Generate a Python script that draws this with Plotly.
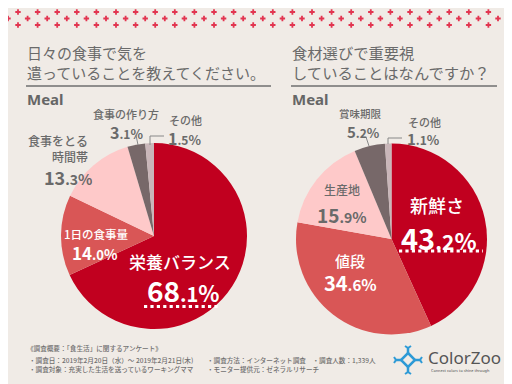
import plotly.graph_objects as go

W, H = 512, 384

# ---- data ----
left_labels = ["栄養バランス", "1日の食事量", "食事をとる時間帯", "食事の作り方", "その他"]
left_values = [68.1, 14.0, 13.3, 3.1, 1.5]
right_labels = ["新鮮さ", "値段", "生産地", "賞味期限", "その他"]
right_values = [43.2, 34.6, 15.9, 5.2, 1.1]
slice_colors = ["#c1001f", "#d95656", "#fec9c9", "#776869", "#c9b6b9"]

left_title = ["日々の食事で気を", "遣っていることを教えてください。"]
right_title = ["食材選びで重要視", "していることはなんですか？"]
footer_left = ["《調査概要：「食生活」に関するアンケート》",
               "・調査日：2019年2月20日（水）〜 2019年2月21日(木)",
               "・調査対象：充実した生活を送っているワーキングママ"]
footer_right = ["・調査方法：インターネット調査　・調査人数：1,339人",
                "・モニター提供元：ゼネラルリサーチ"]

FONT = "Noto Sans CJK JP"
BG = "#f0ebe6"
GRAY = "#6a6a6a"


def px(x):
    return x / W


def py(y):
    return 1 - y / H


def pct(v, small):
    s = f"{v:.1f}"
    a, b = s.split(".")
    return (f"{a}<span style='font-size:{small}px'>.{b}</span>"
            f"<span style='font-size:{int(small*1.12)}px'>%</span>")


fig = go.Figure()

# pies
fig.add_trace(go.Pie(labels=left_labels, values=left_values, sort=False, direction="clockwise",
                     rotation=0, marker=dict(colors=slice_colors, line=dict(width=0)),
                     textinfo="none", hoverinfo="label+percent", showlegend=False,
                     domain=dict(x=[px(53), px(239)], y=[py(321), py(135)])))
fig.add_trace(go.Pie(labels=right_labels, values=right_values, sort=False, direction="clockwise",
                     rotation=0, marker=dict(colors=slice_colors, line=dict(width=0)),
                     textinfo="none", hoverinfo="label+percent", showlegend=False,
                     domain=dict(x=[px(288), px(479)], y=[py(326.5), py(135.5)])))

# decorative dot band
xs, ys = [], []
rows = [4, 10.5, 17]
for i, ry in enumerate(rows):
    off = 10 if i % 2 == 0 else 0
    x = off
    while x <= W + 5:
        xs.append(x)
        ys.append(ry)
        x += 19.6
fig.add_trace(go.Scatter(x=xs, y=ys, mode="markers", hoverinfo="skip", showlegend=False,
                         marker=dict(symbol="cross", size=4.5, color="#e23550", line=dict(width=0))))

ann = []


def text(x, y, t, size, color=GRAY, anchor="left", weight=500, family=FONT, h=None, align=None):
    a = dict(x=px(x), y=py(y), xref="paper", yref="paper", text=t, showarrow=False,
             xanchor=anchor, yanchor="middle",
             font=dict(family=family, size=size, color=color, weight=weight))
    if h:
        a["height"] = h
    if align:
        a["align"] = align
    ann.append(a)


# titles
text(17, 54, "<br>".join(left_title), 15, weight=400, align="left")
text(282, 54, "<br>".join(right_title), 15.3, weight=400, align="left")
text(17, 91, "Meal", 15, "#666666", weight=700, family="Noto Sans")
text(282, 91, "Meal", 15, "#666666", weight=700, family="Noto Sans")

# left pie labels
text(172, 252.5, left_labels[0], 17, "white", "center", h=20)
text(175, 282, pct(left_values[0], 20), 28, "white", "center", 700, h=26)
text(88, 226, left_labels[1], 11.5, "white", "center", h=14)
text(87, 244, pct(left_values[1], 13), 17, "white", "center", 700, h=16)
text(82, 140.5, "食事をとる<br>時間帯", 12, GRAY, "right", align="right")
text(60, 169, pct(left_values[2], 14), 18, GRAY, "center", 700, h=18)
text(118, 105, left_labels[3], 11, GRAY, "center", h=13)
text(118, 123, pct(left_values[3], 12), 16, GRAY, "center", 700, h=15)
text(159, 111, left_labels[4], 11, GRAY, "left", h=13)
text(158, 129.5, pct(left_values[4], 12), 16, GRAY, "left", 700, h=15)

# right pie labels
text(429, 197, right_labels[0], 18, "white", "center", h=20)
text(431, 228, pct(right_values[0], 21), 29, "white", "center", 700, h=27)
text(342, 252, right_labels[1], 15, "white", "center", h=17)
text(342, 274, pct(right_values[1], 15), 20, "white", "center", 700, h=19)
text(334, 181, right_labels[2], 12, GRAY, "center", h=14)
text(334, 206, pct(right_values[2], 14), 19, GRAY, "center", 700, h=18)
text(352, 105, right_labels[3], 10.5, GRAY, "center", h=12)
text(355, 123, pct(right_values[3], 12), 15, GRAY, "center", 700, h=15)
text(398, 114, right_labels[4], 11, GRAY, "left", h=12)
text(397, 130, pct(right_values[4], 12), 15, GRAY, "left", 700, h=15)

# footer
text(17, 339, footer_left[0], 6.6, "#707070", h=9)
text(19, 356.5, "<br>".join(footer_left[1:]), 6.6, "#707070", align="left")
text(197, 356.5, "<br>".join(footer_right), 6.6, "#707070", align="left")

# logo
text(418, 349, "ColorZoo", 17, "#555555", family="Noto Sans", weight=400, h=17)
text(421, 362, "Connect colors to shine through", 3.8, "#666666", family="Noto Sans", h=5)

shapes = []


def line(x0, y0, x1, y1, color="#888888", width=1, dash="solid"):
    shapes.append(dict(type="line", xref="paper", yref="paper", x0=px(x0), y0=py(y0), x1=px(x1), y1=py(y1),
                       line=dict(color=color, width=width, dash=dash)))


# title underlines
line(18, 78, 263, 78, "#6f6f6f", 1.6)
line(283, 78, 489, 78, "#6f6f6f", 1.6)
# leader lines
line(130, 137, 128, 127)
line(142, 137, 142, 128)
line(142, 128, 156, 128)
line(361, 138, 358, 129)
line(380, 136, 380, 130)
line(380, 130, 394, 130)
# dotted underlines
line(136, 298.5, 211, 298.5, "white", 3.2, "dot")
line(391, 243, 475, 243, "white", 3.2, "dot")

# logo icon (blue cross-diamond)
cx, cy = 400, 352
blue = "#2d9ad6"
shapes.append(dict(type="path", xref="paper", yref="paper",
                   path=f"M {px(cx)} {py(cy-7)} L {px(cx+7)} {py(cy)} L {px(cx)} {py(cy+7)} L {px(cx-7)} {py(cy)} Z",
                   line=dict(color=blue, width=2.5)))
for dx, dy in [(0, -1), (0, 1), (1, 0), (-1, 0)]:
    line(cx + dx * 7, cy + dy * 7, cx + dx * 12, cy + dy * 12, blue, 2.5)
    if dx == 0:
        line(cx, cy + dy * 12, cx - 3, cy + dy * 14, blue, 2)
        line(cx, cy + dy * 12, cx + 3, cy + dy * 14, blue, 2)
    else:
        line(cx + dx * 12, cy, cx + dx * 14, cy - 3, blue, 2)
        line(cx + dx * 12, cy, cx + dx * 14, cy + 3, blue, 2)

fig.update_layout(
    width=W, height=H, margin=dict(l=0, r=0, t=0, b=0),
    paper_bgcolor=BG, plot_bgcolor="rgba(0,0,0,0)",
    xaxis=dict(range=[0, W], visible=False, fixedrange=True, domain=[0, 1]),
    yaxis=dict(range=[H, 0], visible=False, fixedrange=True, domain=[0, 1]),
    annotations=ann, shapes=shapes, showlegend=False,
)

fig.write_html("out.html", config={"displayModeBar": False})
